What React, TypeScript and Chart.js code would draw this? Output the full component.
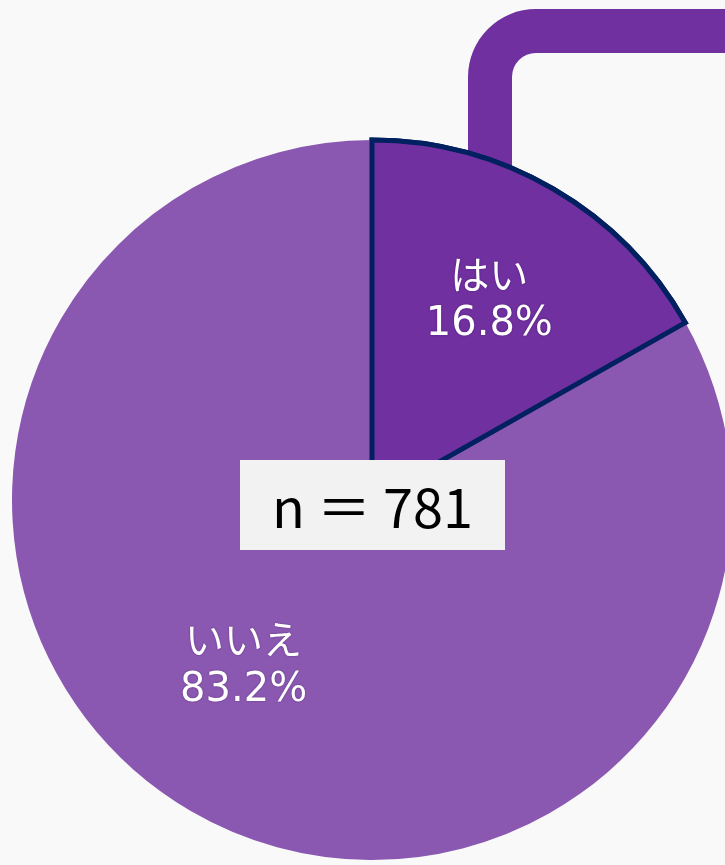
import React, { useEffect, useRef } from "react";
import { Chart, registerables } from "chart.js";

Chart.register(...registerables);

const categories: string[] = ["はい", "いいえ"];
const percentages: number[] = [16.8, 83.2];
const sampleSize = 781;

const sliceColors = ["#7030a0", "#8b58b1"];
const sliceBorderColors = ["#002060", "rgba(0,0,0,0)"];
const sliceBorderWidths = [5, 0];
// label placement relative to each slice: fraction of radius, angular shift (deg)
const labelPlacement = [
  { frac: 0.647, shift: 0 },
  { frac: 0.58, shift: 7.7 },
];

const labelPlugin = {
  id: "sliceLabels",
  afterDatasetsDraw(chart: any) {
    const meta = chart.getDatasetMeta(0);
    const ctx = chart.ctx;
    // redraw highlighted slice so its border sits on top
    const first = meta.data[0];
    if (first) first.draw(ctx);
    meta.data.forEach((arc: any, i: number) => {
      const p = arc.getProps(["x", "y", "startAngle", "endAngle", "outerRadius"], true);
      const mid = (p.startAngle + p.endAngle) / 2 + (labelPlacement[i].shift * Math.PI) / 180;
      const r = p.outerRadius * labelPlacement[i].frac;
      const cx = p.x + Math.cos(mid) * r;
      const cy = p.y + Math.sin(mid) * r;
      ctx.save();
      ctx.fillStyle = "#ffffff";
      ctx.textAlign = "center";
      ctx.textBaseline = "middle";
      ctx.shadowColor = "rgba(40,0,60,0.45)";
      ctx.shadowBlur = 2;
      ctx.font = '39px "Noto Sans CJK JP", sans-serif';
      ctx.fillText(categories[i], cx, cy - 25);
      ctx.font = '40px "DejaVu Sans", "Noto Sans CJK JP", sans-serif';
      ctx.fillText(percentages[i].toFixed(1) + "%", cx, cy + 26);
      ctx.restore();
    });
  },
};

export default function App() {
  const canvasRef = useRef<HTMLCanvasElement | null>(null);

  useEffect(() => {
    document.body.style.margin = "0";
    const canvas = canvasRef.current;
    if (!canvas) return;
    const chart = new Chart(canvas, {
      type: "pie",
      data: {
        labels: categories,
        datasets: [
          {
            data: percentages,
            backgroundColor: sliceColors,
            borderColor: sliceBorderColors,
            borderWidth: sliceBorderWidths,
            borderJoinStyle: "miter",
            radius: 360,
            clip: false,
          } as any,
        ],
      },
      options: {
        responsive: false,
        animation: false,
        devicePixelRatio: 1,
        events: [],
        layout: { padding: { left: 19, top: 135, right: 0, bottom: 0 } },
        plugins: {
          legend: { display: false },
          tooltip: { enabled: false },
        },
      },
      plugins: [labelPlugin],
    });
    return () => chart.destroy();
  }, []);

  return (
    <div
      style={{
        position: "fixed",
        left: 0,
        top: 0,
        width: 725,
        height: 865,
        overflow: "hidden",
        background: "#f9f9f9",
      }}
    >
      <div
        style={{
          position: "absolute",
          left: 468,
          top: 9,
          width: 1200,
          height: 400,
          borderTop: "44px solid #7030a0",
          borderLeft: "44px solid #7030a0",
          borderTopLeftRadius: 68,
          boxSizing: "border-box",
        }}
      />
      <canvas
        ref={canvasRef}
        width={725}
        height={865}
        style={{ position: "absolute", left: 0, top: 0, width: 725, height: 865 }}
      />
      <div
        style={{
          position: "absolute",
          left: 240,
          top: 460,
          width: 265,
          height: 90,
          background: "#f2f2f2",
          color: "#000",
          display: "flex",
          alignItems: "center",
          justifyContent: "center",
          font: '54px "Noto Sans CJK JP", "Noto Sans", sans-serif',
          lineHeight: "90px",
          whiteSpace: "pre",
        }}
      >
        {`n ＝ ${sampleSize}`}
      </div>
    </div>
  );
}
